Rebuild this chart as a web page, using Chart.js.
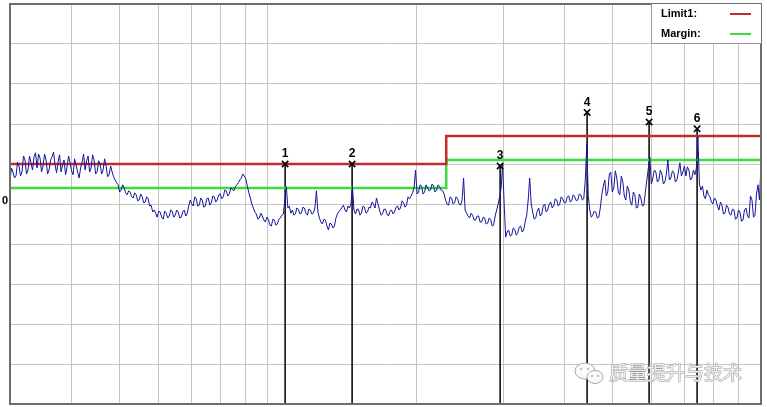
<!DOCTYPE html>
<html>
<head>
<meta charset="utf-8">
<script src="https://cdn.jsdelivr.net/npm/chart.js@4.4.1/dist/chart.umd.min.js"></script>
<style>
  html, body { margin: 0; padding: 0; background: #fff; }
  #chart-wrap { width: 767px; height: 407px; }
</style>
</head>
<body>
<div id="chart-wrap"><canvas id="emi-chart" width="767" height="407"></canvas></div>
<script>
// frequency axis (MHz, log) and level axis
const freqMin = 30;
const freqMax = 1000;
const freqGrid = [30, 40, 50, 60, 70, 80, 90, 100, 200, 300, 400, 500, 600, 700, 800, 900, 1000];
const levelMin = -50;
const levelMax = 50;
const levelStep = 10;

// limit lines
const limitFreqs = [30, 230, 230, 1000];
const limit1Levels = [10, 10, 17, 17];
const marginLevels = [4, 4, 11, 11];

// measured trace, one value per sweep point (30 MHz -> 1 GHz)
const traceLevels = [
  6, 9, 8, 6.5, 7, 10.5, 9.5, 7, 8, 12,
  11, 7.5, 8.5, 12, 10.3, 8.5, 11.8, 12.8, 9, 12.5,
  11.5, 8, 9.5, 12.5, 11, 7.5, 8.5, 11, 11.8, 13,
  9.8, 7.8, 10.5, 12.3, 8, 9.8, 11, 7.3, 9.3, 12,
  10.3, 8.3, 7.3, 11.3, 9.8, 8, 6.5, 9, 10.5, 12.5,
  8.5, 10.8, 12, 8, 9, 12.3, 11, 7.5, 8, 10.8,
  10, 7.5, 8.5, 11.3, 9.5, 6.8, 7.3, 9.5, 8, 6.8,
  6, 5.3, 4.8, 3, 3.5, 4.8, 4, 2.8, 2.3, 3.3,
  3, 1.8, 1.5, 2.8, 2.3, 0.8, 1, 2.5, 1.8, 0.3,
  0.5, 1.8, 1.3, -0.5, -0.3, -2, -1.5, -2.3, -3.3, -1.8,
  -2, -3.3, -3.8, -1.8, -2.3, -3.5, -3, -1.5, -1.8, -3.3,
  -2.8, -1.5, -2, -3.5, -3.3, -2, -1.5, -3, -2.3, -0.5,
  1, 0, -0.5, 1.8, 1.3, -0.5, -0.3, 1.5, 1, -0.8,
  -0.5, 1.3, 1.5, -0.3, 0.3, 2, 1.8, 0.5, 1, 2.3,
  2.5, 1.3, 1.8, 3.5, 3.3, 2, 2.5, 4, 3.8, 3.3,
  4.3, 4.8, 5.3, 6, 6.5, 7.5, 7, 6.3, 4.5, 2.8,
  1.5, 0, -1, -2, -2.5, -3.8, -3.5, -2.3, -3, -4,
  -4.5, -3.3, -3.8, -5.3, -5.5, -3.8, -4, -5.3, -5, -3.8,
  -3.5, -2.8, -2.5, 1, 4.3, -1, -0.5, -2.3, -1.5, -2.8,
  -2.5, -1, -1.3, -2.5, -2.3, -0.8, -1, -2.3, -2.8, -1.3,
  -1.5, -2.5, -2.3, -1, 3.3, -2, -3.5, -4.5, -5, -3.8,
  -4, -5.5, -6.5, -4.8, -5, -6, -5.5, -3.5, -2.5, -1.8,
  -1.5, -0.8, -0.3, -1.5, -2, -0.5, -1, 0, 4.3, -1.5,
  -2.5, -1.3, -1.3, -2.8, -2.3, -0.5, -0.8, -2.3, -2, -0.8,
  -1, 0.5, 0, -1, 1.5, 0, -1.5, -2.8, -2.5, -1.3,
  -1.3, -2.5, -3, -1.8, -1.5, -2.5, -2, -0.8, -0.5, -1.5,
  -1, 0.8, 0.3, -0.8, -0.3, 1.8, 1.3, 2, 2.8, 4,
  8.5, 2.5, 3, 4.8, 4.5, 2.5, 3, 4.8, 4, 3.3,
  3.5, 5, 4.5, 3, 3.5, 4.8, 4.3, 3.5, 3.3, 2.5,
  1, 0, -0.3, 1.8, 1.5, 0, 0.3, 1.8, 1.3, 0,
  -0.3, 1, 6.5, -1.5, -2.3, -3, -3.5, -2.3, -2.8, -4,
  -4, -3, -3, -4.5, -4.5, -3.3, -3.5, -5, -4.8, -3.5,
  -3.8, -5.5, -5.3, -3, -1.5, 0, 1.8, 4, 10, 0,
  -8.3, -7, -6.5, -8, -7.8, -6, -6.3, -7.8, -7.3, -5.8,
  -5.5, -7, -6.5, -4.5, -2.8, 1, 6.5, 0, -2, -3.8,
  -3.5, -1.8, -1, -3, -2.5, -0.5, 0, -2, -1.5, 0,
  0.5, -1, -0.5, 1.3, 1, -0.5, 0, 1.8, 1.3, 0.3,
  0.3, 1.8, 2, 0.5, 0.8, 2.3, 1.8, 0.8, 1, 2.5,
  2.3, 1, 1.3, 6, 14.8, 2, -1.5, -3.3, -2.8, -1.8,
  -2, -3.5, -3.3, -1, 2.3, 4.5, 6, 2, 3, 7.5,
  8, 3, 4, 8.3, 6.5, 3, 2.3, 7, 5.5, 2,
  1, 4.5, 3.5, 0.5, -0.3, 3, 2.3, -1, -0.8, 2.5,
  1.5, -0.5, -0.3, 3, 6, 9, 11.8, 5, 6.5, 8.5,
  8, 5.5, 6, 8.5, 7.5, 5, 5.5, 7.5, 11, 6,
  6.5, 8.3, 7.8, 5.5, 6, 8, 10.3, 7, 8, 9.5,
  7, 9.3, 8.5, 6, 6.5, 8.5, 7.3, 9, 16.8, 5,
  3.5, 4.5, 2, 1.3, 3.5, 2.3, 1.8, 0.5, 0, 1.5,
  1, -0.5, -1.5, 0.5, -0.3, -2.5, -2.3, -0.3, -0.8, -2.5,
  -2.8, -1.3, -1.5, -3.8, -3.5, -1.5, -2, -4.3, -4, -1.5,
  -1, -3, -3.5, 2, 1, -3.3, -2.8, 2.5, 4.8, 1,
  9.8
];

// peak markers
const markerLabels = ["1", "2", "3", "4", "5", "6"];
const markerFreqs = [108.4, 148.2, 295.8, 444, 593, 742];
const markerLevels = [10, 10, 9.5, 22.9, 20.5, 18.8];

const gridColor = "#c4c4c4";
const frameColor = "#6e6e6e";
const limitColor = "#c42a2a";
const marginColor = "#3cdc3c";
const traceColor = "#16169a";

// vertical marker lines, from marker down to the bottom of the plot
const markerLineSets = markerFreqs.map((f, i) => ({
  type: "line",
  label: "marker line " + markerLabels[i],
  data: [{ x: f, y: markerLevels[i] }, { x: f, y: levelMin }],
  borderColor: "#000",
  borderWidth: 1.5,
  pointRadius: 0,
  xAxisID: "x",
  order: 5,
}));

// frame round the plot area
const framePlugin = {
  id: "frame",
  afterDraw(chart) {
    const { ctx, chartArea } = chart;
    ctx.save();
    ctx.strokeStyle = frameColor;
    ctx.lineWidth = 2;
    ctx.strokeRect(chartArea.left, chartArea.top, chartArea.right - chartArea.left, chartArea.bottom - chartArea.top);
    ctx.restore();
  },
};

// numbers above the markers
const markerTextPlugin = {
  id: "markerText",
  afterDatasetsDraw(chart) {
    const idx = chart.data.datasets.findIndex((d) => d.id === "markers");
    const meta = chart.getDatasetMeta(idx);
    const ctx = chart.ctx;
    ctx.save();
    ctx.font = "bold 12px 'Liberation Sans', Arial, sans-serif";
    ctx.fillStyle = "#000";
    ctx.textAlign = "center";
    ctx.textBaseline = "middle";
    meta.data.forEach((pt, i) => {
      ctx.fillText(markerLabels[i], pt.x, pt.y - 10);
    });
    ctx.restore();
  },
};

// legend box in the top right corner: text, then a short line
const legendBoxPlugin = {
  id: "legendBox",
  afterDraw(chart) {
    const { ctx, chartArea } = chart;
    const items = chart.data.datasets.filter((d) => d.inLegend);
    const boxW = 110;
    const boxH = 39;
    const x0 = chartArea.right - boxW;
    const y0 = chartArea.top;
    ctx.save();
    ctx.fillStyle = "#fff";
    ctx.fillRect(x0, y0, boxW, boxH);
    ctx.strokeStyle = "#9a9a9a";
    ctx.lineWidth = 1;
    ctx.beginPath();
    ctx.moveTo(x0 + 0.5, y0);
    ctx.lineTo(x0 + 0.5, y0 + boxH + 0.5);
    ctx.lineTo(chartArea.right, y0 + boxH + 0.5);
    ctx.stroke();
    ctx.font = "bold 11px 'Liberation Sans', Arial, sans-serif";
    ctx.textBaseline = "middle";
    ctx.textAlign = "left";
    items.forEach((d, i) => {
      const y = y0 + 10 + i * 20;
      ctx.fillStyle = "#000";
      ctx.fillText(d.label, x0 + 10, y);
      ctx.strokeStyle = d.borderColor;
      ctx.lineWidth = 2;
      ctx.beginPath();
      ctx.moveTo(x0 + 79, y);
      ctx.lineTo(x0 + 100, y);
      ctx.stroke();
    });
    ctx.restore();
  },
};

// faint watermark bottom right
const watermarkPlugin = {
  id: "watermark",
  afterDraw(chart) {
    const ctx = chart.ctx;
    ctx.save();
    ctx.strokeStyle = "#a8a8a8";
    ctx.fillStyle = "#fbfbfb";
    ctx.lineWidth = 1;
    ctx.beginPath();
    ctx.ellipse(585, 371, 10, 8, 0, 0, Math.PI * 2);
    ctx.fill();
    ctx.stroke();
    ctx.beginPath();
    ctx.ellipse(595, 377, 8, 6.5, 0, 0, Math.PI * 2);
    ctx.fill();
    ctx.stroke();
    ctx.fillStyle = "#a8a8a8";
    [[581, 369], [588, 369], [592, 376], [598, 376]].forEach((p) => {
      ctx.beginPath();
      ctx.arc(p[0], p[1], 1, 0, Math.PI * 2);
      ctx.fill();
    });
    ctx.font = "19px 'Noto Sans CJK SC', sans-serif";
    ctx.textBaseline = "middle";
    ctx.textAlign = "left";
    ctx.lineWidth = 1;
    ctx.strokeStyle = "#9c9c9c";
    ctx.fillStyle = "#eeeeee";
    ctx.strokeText("质量提升与技术", 609, 373);
    ctx.fillText("质量提升与技术", 609, 373);
    ctx.restore();
  },
};

const ctx = document.getElementById("emi-chart").getContext("2d");
new Chart(ctx, {
  type: "line",
  data: {
    datasets: [
      {
        id: "markers",
        type: "scatter",
        label: "markers",
        data: markerFreqs.map((f, i) => ({ x: f, y: markerLevels[i] })),
        pointStyle: "crossRot",
        pointRadius: 4.5,
        borderColor: "#000",
        backgroundColor: "#000",
        pointBorderWidth: 1.6,
        xAxisID: "x",
        order: 0,
      },
      {
        label: "trace",
        data: traceLevels.map((v, i) => ({ x: i, y: v })),
        borderColor: traceColor,
        borderWidth: 1,
        pointRadius: 0,
        tension: 0,
        xAxisID: "xs",
        order: 1,
      },
      {
        label: "Limit1:",
        inLegend: true,
        data: limitFreqs.map((f, i) => ({ x: f, y: limit1Levels[i] })),
        borderColor: limitColor,
        borderWidth: 2.5,
        pointRadius: 0,
        xAxisID: "x",
        order: 2,
      },
      {
        label: "Margin:",
        inLegend: true,
        data: limitFreqs.map((f, i) => ({ x: f, y: marginLevels[i] })),
        borderColor: marginColor,
        borderWidth: 2.5,
        pointRadius: 0,
        xAxisID: "x",
        order: 3,
      },
      ...markerLineSets,
    ],
  },
  options: {
    responsive: false,
    animation: false,
    events: [],
    layout: { autoPadding: false, padding: { left: 0, top: 4, right: 6, bottom: 3 } },
    plugins: { legend: { display: false }, tooltip: { enabled: false } },
    scales: {
      x: {
        type: "logarithmic",
        min: freqMin,
        max: freqMax,
        afterBuildTicks: (scale) => {
          scale.ticks = freqGrid.map((v) => ({ value: v }));
        },
        afterFit: (scale) => {
          scale.height = 0;
          scale.paddingLeft = 0;
          scale.paddingRight = 0;
        },
        ticks: { display: false },
        grid: { color: gridColor, lineWidth: 1, drawTicks: false },
        border: { display: false },
      },
      xs: {
        type: "linear",
        display: false,
        min: 0,
        max: traceLevels.length - 1,
      },
      y: {
        type: "linear",
        min: levelMin,
        max: levelMax,
        afterFit: (scale) => {
          scale.width = 10;
          scale.paddingTop = 0;
          scale.paddingBottom = 0;
        },
        ticks: {
          stepSize: levelStep,
          padding: 2,
          labelOffset: -3,
          color: "#000",
          font: { family: "'Liberation Sans', Arial, sans-serif", size: 11, weight: "bold" },
          callback: (v) => (v === 0 ? "0" : ""),
        },
        grid: { color: gridColor, lineWidth: 1, drawTicks: false },
        border: { display: false },
      },
    },
  },
  plugins: [framePlugin, markerTextPlugin, legendBoxPlugin, watermarkPlugin],
});
</script>
</body>
</html>
